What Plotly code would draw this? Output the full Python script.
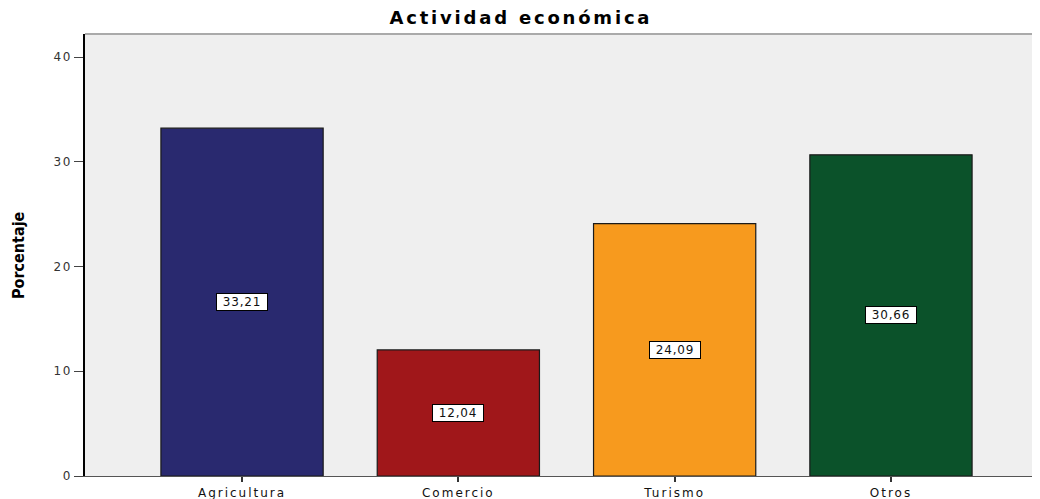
import plotly.graph_objects as go

categories = ["Agricultura", "Comercio", "Turismo", "Otros"]
values = [33.21, 12.04, 24.09, 30.66]
labels = ["33,21", "12,04", "24,09", "30,66"]
colors = ["#29296f", "#a0171a", "#f79a1e", "#0b522a"]
y_ticks = [0, 10, 20, 30, 40]


def spaced(t, px):
    return f'<span style="letter-spacing:{px}px">{t}</span>'


fig = go.Figure()
fig.add_trace(go.Bar(
    x=list(range(len(categories))), y=values, width=0.75,
    marker=dict(color=colors, line=dict(color="#1a1a1a", width=1.2)),
    hoverinfo="skip",
))

for i, (v, lab) in enumerate(zip(values, labels)):
    fig.add_annotation(x=i, y=v / 2, text=spaced(lab, 0.8), showarrow=False,
                       font=dict(family="DejaVu Sans", size=12, color="#111"),
                       width=48, height=14, align="center",
                       bgcolor="white", bordercolor="black", borderwidth=1, borderpad=1)

fig.add_annotation(x=0, xref="paper", y=0.5, yref="paper", xanchor="center", yanchor="middle",
                   xshift=-67, textangle=-90, showarrow=False,
                   text="<b>Porcentaje</b>",
                   font=dict(family="DejaVu Sans Condensed", size=16, color="black"))

fig.update_layout(
    width=1032, height=491,
    margin=dict(l=77, r=0, t=26, b=23),
    paper_bgcolor="white", plot_bgcolor="#efefef",
    showlegend=False,
    title=dict(text=spaced("<b>Actividad económica</b>", 2.8), x=0.497, xref="container",
               xanchor="center", y=1 - 10 / 491, yanchor="middle",
               font=dict(family="DejaVu Sans", size=18, color="black")),
    xaxis=dict(range=[-0.726, 3.689], tickmode="array", tickvals=list(range(len(categories))),
               ticktext=[spaced(c, 2) for c in categories], ticks="outside", ticklen=5,
               tickcolor="#333", tickwidth=1.5,
               showgrid=False, zeroline=False, showline=True, linecolor="#555", linewidth=1.2,
               tickfont=dict(family="DejaVu Sans", size=12, color="#111")),
    yaxis=dict(range=[0, 42.2], tickmode="array", tickvals=y_ticks,
               ticktext=[spaced(str(t), 1.5) for t in y_ticks],
               ticks="outside", ticklen=9, tickcolor="#444", tickwidth=1.2,
               showgrid=False, zeroline=False, showline=True, linecolor="black", linewidth=1.5,
               tickfont=dict(family="DejaVu Sans", size=12, color="#333")),
)
fig.add_shape(type="line", xref="paper", yref="paper", x0=0, x1=1, y0=1, y1=1,
              line=dict(color="#aaaaaa", width=2))

fig.write_html("out.html")
